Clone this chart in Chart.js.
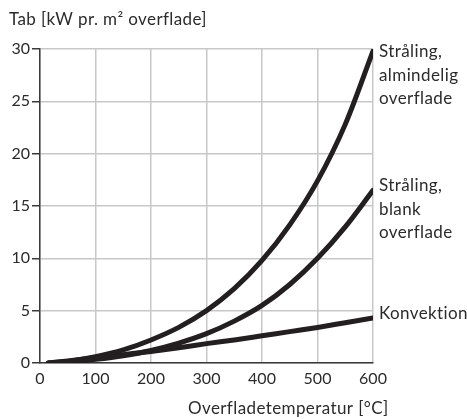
<!DOCTYPE html>
<html>
<head>
<meta charset="utf-8">
<script src="https://cdn.jsdelivr.net/npm/chart.js@4.4.1/dist/chart.umd.min.js"></script>
<style>
    html, body { margin: 0; padding: 0; background: #fff; }
    #wrap { width: 467px; height: 419px; position: relative; }
</style>
</head>
<body>
<div id="wrap"><canvas id="heatChart"></canvas></div>
<script>
// temperatures along the x axis (°C)
const temps = [15, 50, 100, 150, 200, 250, 300, 350, 400, 450, 500, 550, 600];

// heat loss in kW per m² surface
const radiationOrdinary = [0, 0.15, 0.6, 1.25, 2.2, 3.4, 5.0, 7.1, 9.8, 13.2, 17.4, 22.8, 29.8];
const radiationBlank = [0, 0.08, 0.35, 0.7, 1.2, 1.9, 2.8, 4.0, 5.5, 7.5, 10.0, 13.0, 16.5];
const convection = [0, 0.2, 0.5, 0.8, 1.1, 1.45, 1.85, 2.2, 2.6, 3.0, 3.4, 3.85, 4.3];

const seriesLabels = [
    ['Stråling,', 'almindelig', 'overflade'],
    ['Stråling,', 'blank', 'overflade'],
    ['Konvektion']
];
const xTicks = [0, 100, 200, 300, 400, 500, 600];
const yTicks = [0, 5, 10, 15, 20, 25, 30];

const yTitle = 'Tab [kW pr. m² overflade]';
const xTitle = 'Overfladetemperatur [°C]';

const FONT = 'Lato, "Open Sans", sans-serif';
const TEXT = '#2b2b2b';
const LINE = '#231f20';

const toPoints = values => values.map((v, i) => ({ x: temps[i], y: v }));

// draws the titles and the labels at the line ends
const textPlugin = {
    id: 'chartText',
    afterDraw(chart) {
        const { ctx, scales } = chart;
        ctx.save();
        ctx.fillStyle = TEXT;
        ctx.font = '17px ' + FONT;
        ctx.letterSpacing = '0.4px';
        ctx.textAlign = 'left';
        ctx.textBaseline = 'alphabetic';
        ctx.fillText(yTitle, 9, 25);
        ctx.fillText(xTitle, 188, 414);

        const offsets = [6, 1, 1];
        chart.data.datasets.forEach((ds, i) => {
            const last = ds.data[ds.data.length - 1];
            const x = scales.x.getPixelForValue(last.x) + 6;
            const y = scales.y.getPixelForValue(last.y) + offsets[i];
            seriesLabels[i].forEach((line, j) => {
                ctx.fillText(line, x, y + j * 23.5);
            });
        });
        ctx.restore();
    }
};

const makeDataset = values => ({
    data: toPoints(values),
    borderColor: LINE,
    borderWidth: 5,
    borderCapStyle: 'round',
    borderJoinStyle: 'round',
    pointRadius: 0,
    cubicInterpolationMode: 'monotone',
    fill: false
});

new Chart(document.getElementById('heatChart'), {
    type: 'line',
    data: {
        datasets: [
            makeDataset(radiationOrdinary),
            makeDataset(radiationBlank),
            makeDataset(convection)
        ]
    },
    options: {
        responsive: true,
        maintainAspectRatio: false,
        animation: false,
        layout: {
            padding: { top: 49, right: 94, left: 0, bottom: 0 }
        },
        plugins: {
            legend: { display: false },
            tooltip: { enabled: false }
        },
        scales: {
            x: {
                type: 'linear',
                min: 0,
                max: 600,
                afterBuildTicks: axis => { axis.ticks = xTicks.map(v => ({ value: v })); },
                afterFit: axis => { axis.height = 56; },
                grid: {
                    color: '#c8c8c8',
                    lineWidth: 1.5,
                    drawTicks: false
                },
                border: { color: '#3a3a3a', width: 1.5 },
                ticks: {
                    color: TEXT,
                    padding: 6,
                    maxRotation: 0,
                    font: { family: FONT, size: 16 }
                }
            },
            y: {
                min: 0,
                max: 30,
                afterBuildTicks: axis => { axis.ticks = yTicks.map(v => ({ value: v })); },
                afterFit: axis => { axis.width = 40; },
                grid: {
                    color: '#c8c8c8',
                    lineWidth: 1.5,
                    tickColor: '#3a3a3a',
                    tickLength: 8
                },
                border: { color: '#3a3a3a', width: 1.5 },
                ticks: {
                    color: TEXT,
                    padding: 2,
                    font: { family: FONT, size: 16 }
                }
            }
        }
    },
    plugins: [textPlugin]
});
</script>
</body>
</html>
